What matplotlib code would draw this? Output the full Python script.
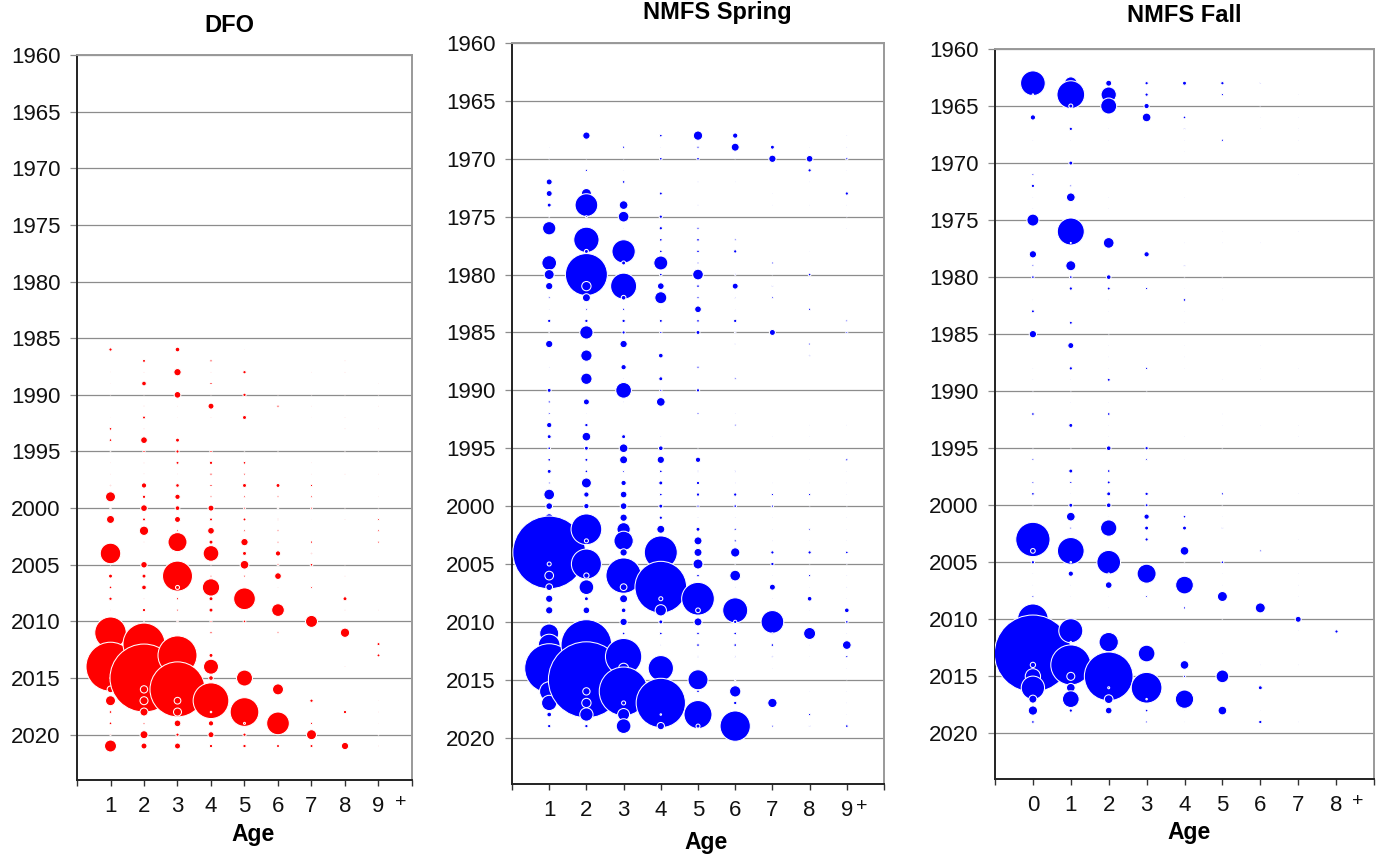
import matplotlib
matplotlib.use("Agg")
import matplotlib.pyplot as plt
import numpy as np

plt.rcParams['font.family'] = ['Liberation Sans', 'DejaVu Sans']

# Bubble width index by survey year (rows) and age (columns)

# DFO, ages 1..9+
dfo_years = list(range(1986, 2022))
dfo_ages = [1, 2, 3, 4, 5, 6, 7, 8, 9]
dfo_index = [
    [3.3, 0, 4.7, 0, 0.5, 0, 0, 0, 0],          # 1986
    [0, 3, 0, 2.3, 0, 0, 0, 0.5, 0],            # 1987
    [0.7, 0.5, 7.3, 0.5, 3.3, 0, 0.5, 0.5, 0],  # 1988
    [0.5, 4.7, 0, 2.3, 0, 0, 0, 0, 0.5],        # 1989
    [0.3, 0.3, 6.7, 0.3, 3.3, 0.3, 0.3, 0.3, 0.3],  # 1990
    [0, 1.5, 0.5, 6, 0, 2.3, 0.5, 0, 0.5],      # 1991
    [0.7, 3, 0.5, 0.5, 4, 0, 0.7, 0.5, 0],      # 1992
    [2.7, 0.7, 0, 0, 0, 0, 0, 0.5, 0.5],        # 1993
    [2.7, 6.7, 4, 0, 0, 0, 0, 0, 0],            # 1994
    [0.5, 2.3, 3.3, 2.3, 0.3, 0.3, 0, 0.3, 0.3],  # 1995
    [0.5, 1.5, 3, 3.3, 2.7, 0, 0.5, 0, 0],      # 1996
    [0.5, 1.2, 0.7, 2.3, 2, 0, 0.5, 0.5, 0.5],  # 1997
    [1.5, 5.3, 3.7, 2.3, 4, 4, 2.3, 0, 0],      # 1998
    [10, 3.3, 5.3, 2, 2, 2, 2, 0, 0.5],         # 1999
    [1.5, 6.7, 4.7, 6, 2, 1.5, 2, 0.3, 0.3],    # 2000
    [8, 3, 6, 3, 3, 1.5, 0.7, 0.7, 2],          # 2001
    [0, 9.3, 2, 6.7, 2, 2, 0, 0, 2],            # 2002
    [0, 1.5, 19, 4, 7.3, 2, 2.3, 0, 2],         # 2003
    [20.5, 0, 0.5, 15.7, 4, 5.3, 1.5, 0, 0],    # 2004
    [0.5, 6.5, 0.5, 0.5, 8.7, 2, 2.7, 0.3, 0],  # 2005
    [4, 4, 30, 2, 2, 6.7, 0, 0.5, 0],           # 2006
    [2.7, 4.7, 4, 17.3, 0, 0.5, 2, 0, 0],       # 2007
    [3.3, 0.7, 2.3, 4, 21.7, 0, 0, 4, 0],       # 2008
    [0.7, 3.3, 2, 4, 0, 12.7, 0, 0.5, 0.5],     # 2009
    [0.5, 0.5, 1.5, 2, 2.7, 0, 12, 0, 0],       # 2010
    [31.5, 1, 1, 2.3, 0, 2, 0, 9.3, 0],         # 2011
    [1, 42, 1, 0, 0, 0, 0, 0, 3],               # 2012
    [2, 2, 39, 4, 0, 0, 0, 0, 3],               # 2013
    [49, 2, 2, 15, 0, 0, 0, 0.5, 0],            # 2014
    [1, 68, 2, 4.7, 16, 0, 0, 0, 0],            # 2015
    [6.7, 7.3, 55, 1, 0.5, 11, 0, 0, 0],        # 2016
    [10, 8, 6.7, 35.7, 0, 0, 3.3, 0, 0.5],      # 2017
    [2.7, 8, 8, 1.5, 28.7, 0, 0, 3.3, 0.5],     # 2018
    [2.7, 2, 6.7, 5.3, 2, 22.7, 2.3, 0, 0.3],   # 2019
    [1.5, 8, 3.3, 6, 3.3, 0, 10, 0, 0.7],       # 2020
    [12, 6, 6, 3.3, 3.3, 3, 3, 7.3, 0.7],       # 2021
]

# NMFS Spring, ages 1..9+
spring_years = list(range(1968, 2020))
spring_ages = [1, 2, 3, 4, 5, 6, 7, 8, 9]
spring_index = [
    [0, 7.3, 0, 2.7, 9.3, 5.3, 0, 0, 0.5],        # 1968
    [0.3, 0, 2.3, 0.3, 2.3, 8, 4, 0.3, 0.5],      # 1969
    [0.5, 0.3, 0.3, 2.7, 2.7, 0.3, 7.3, 6.7, 2.3],  # 1970
    [0, 2.3, 0.5, 0, 0, 0, 0, 3.3, 0.3],          # 1971
    [6, 0, 2.7, 0, 0.5, 0.3, 0, 0.3, 0],          # 1972
    [6, 10, 0, 3, 0, 0, 0.5, 0, 3.3],             # 1973
    [4, 22.7, 8.7, 0, 0.5, 0, 0.3, 0.3, 0.3],     # 1974
    [1, 2, 10.7, 3.3, 0, 0, 0, 0, 0.5],           # 1975
    [13.3, 0, 0.5, 3.3, 2.3, 0, 0, 0, 0.3],       # 1976
    [0, 25.3, 0, 2.7, 2.7, 2, 0, 0, 0],           # 1977
    [0, 4, 23.3, 2.7, 2.7, 3.3, 0, 0.3, 0],       # 1978
    [14.7, 3, 4, 14, 2, 0, 2, 0, 0],              # 1979
    [10, 42, 0, 2.7, 10.7, 1.5, 0.5, 2.7, 0],     # 1980
    [7.3, 9.3, 26, 6.7, 2.7, 6, 1.5, 0, 0],       # 1981
    [2, 8, 4.7, 12, 2.3, 1.5, 2, 0, 0],           # 1982
    [0.5, 2, 2.3, 0.5, 6.7, 0.3, 0, 2.3, 0],      # 1983
    [3.3, 3.3, 3.3, 3, 2.7, 3.3, 0, 0, 2],        # 1984
    [0.5, 13.3, 3.3, 2.3, 4, 1.5, 6, 0, 2],       # 1985
    [7.3, 0, 7.3, 0, 0, 1.5, 0, 2, 0],            # 1986
    [0, 11.3, 0, 4.7, 0, 0, 0, 1.5, 0],           # 1987
    [0.5, 0, 5.3, 0, 2.3, 0, 0, 0, 0],            # 1988
    [0, 11.3, 0.5, 4, 0, 2, 0, 0, 0],             # 1989
    [4, 0, 15.7, 2.3, 3.3, 0, 0, 0, 0],           # 1990
    [2.3, 6, 0.5, 8.7, 0, 0, 0, 0, 0],            # 1991
    [2, 0.5, 0, 0, 2, 0.5, 0, 0, 0],              # 1992
    [5.3, 3.3, 0, 0, 0, 2, 0, 0.3, 0.3],          # 1993
    [4, 8.7, 4, 0.5, 0, 0, 0.3, 0.3, 0],          # 1994
    [2.7, 4, 8.7, 4.7, 0.3, 0, 0, 0, 0],          # 1995
    [2.7, 3, 8, 7.3, 5.3, 0, 0, 0.3, 2.3],        # 1996
    [4, 2.7, 2, 2.7, 1.5, 1.5, 0, 0, 0.3],        # 1997
    [2, 10, 5.3, 4, 3.3, 0.5, 0.3, 0.3, 0.3],     # 1998
    [10.7, 5.3, 6.7, 2.7, 3.3, 3.3, 2.3, 2.3, 0.3],  # 1999
    [6.7, 5.3, 6.7, 4, 2.3, 2.7, 2.3, 0.3, 0.3],  # 2000
    [8, 2, 7.3, 3.3, 0.5, 0.5, 0.3, 0, 0.3],      # 2001
    [4, 30.7, 13.3, 8, 4, 2.3, 0.5, 2, 0.3],      # 2002
    [3, 4, 19.3, 0, 8, 2.3, 0.5, 0.3, 0.3],       # 2003
    [72.7, 1, 7.3, 33, 8, 9.3, 3.3, 3.3, 2.7],    # 2004
    [4, 30, 1, 1, 10, 0.5, 3.3, 0.3, 0.5],        # 2005
    [8.7, 5.3, 35.3, 1, 2.7, 10.7, 0.5, 2.3, 0.5],  # 2006
    [6.7, 14.7, 6.7, 51.7, 0, 0.5, 6, 0.3, 0.5],  # 2007
    [7.3, 4, 8, 4, 32.7, 0, 0.5, 4.7, 0.3],       # 2008
    [7.3, 6.7, 4.7, 11.3, 4.7, 25, 0, 0.3, 4.7],  # 2009
    [0.5, 0.5, 7.3, 4, 8, 3.3, 22.7, 0, 2.7],     # 2010
    [19, 1, 2.7, 2.7, 2.7, 2.7, 1.5, 12, 0.5],    # 2011
    [21.7, 50.7, 0.5, 0.5, 2.7, 2.7, 2.7, 0.3, 8.7],  # 2012
    [10, 2, 36.3, 0, 1.5, 1.5, 1.5, 0.3, 2.3],    # 2013
    [49, 2, 10, 25.3, 0, 0, 0.3, 0, 0.3],         # 2014
    [1, 76, 2, 1, 20, 1.5, 0, 0, 0.3],            # 2015
    [19.3, 7.3, 48.7, 1, 2.7, 11.3, 0, 0.3, 0.3],  # 2016
    [15.3, 9.3, 4, 49.3, 0, 3.3, 9.3, 0, 0.3],    # 2017
    [4.7, 13.3, 12, 1.5, 28, 0, 0, 2.3, 0.3],     # 2018
    [3.3, 3.3, 14.7, 7.3, 4, 30.3, 2, 1.5, 2.7],  # 2019
]

# NMFS Fall, ages 0..8+
fall_years = list(range(1963, 2020))
fall_ages = [0, 1, 2, 3, 4, 5, 6, 7, 8]
fall_index = [
    [24.7, 12.7, 6, 3.3, 4, 3.3, 1.5, 0, 0],      # 1963
    [1.5, 27.7, 15.3, 3.3, 0, 2.3, 0, 0.3, 0],    # 1964
    [0, 4, 16, 5.3, 0, 0, 0.3, 0, 0],             # 1965
    [5.3, 0, 0.3, 8.7, 2.7, 0, 0.3, 0.3, 0],      # 1966
    [0, 3.3, 0.3, 0, 1.5, 0, 0.3, 0.3, 0],        # 1967
    [0.3, 0.3, 0.3, 0, 0.3, 2.3, 0, 0.3, 0],      # 1968
    [0, 0, 0, 0, 0.3, 0, 0, 0, 0],                # 1969
    [0, 4, 0, 0, 0, 0, 0, 0, 0],                  # 1970
    [2, 0, 0, 0, 0, 0, 0, 0.3, 0],                # 1971
    [3.3, 2, 0, 0, 0, 0, 0, 0, 0],                # 1972
    [0.3, 8.7, 0.3, 0, 0.3, 0, 0, 0, 0],          # 1973
    [0.3, 0, 0.3, 0, 0, 0, 0, 0, 0],              # 1974
    [12, 0, 0, 0, 0, 0, 0, 0, 0],                 # 1975
    [0, 27, 0, 0, 0, 0.3, 0, 0.3, 0],             # 1976
    [0, 1, 10.7, 0, 0.3, 0.3, 0.3, 0, 0],         # 1977
    [7.3, 0, 0, 5.3, 0, 0, 0, 0, 0],              # 1978
    [2, 10, 0, 0, 1.5, 0, 0, 0, 0],               # 1979
    [2.7, 2.7, 4.7, 0, 0.3, 0.3, 0, 0, 0],        # 1980
    [0, 3.3, 3, 2.3, 0.3, 0.3, 0, 0, 0],          # 1981
    [0.3, 0, 0.3, 0, 2.7, 0.3, 0, 0, 0],          # 1982
    [3, 0, 0.3, 0, 0.3, 0, 0, 0, 0],              # 1983
    [0, 3, 0, 0, 0.3, 0, 0, 0, 0],                # 1984
    [7.3, 0, 0.3, 0, 0, 0, 0, 0, 0],              # 1985
    [0, 6, 0.3, 0, 0.3, 0, 0.3, 0, 0],            # 1986
    [0, 0, 0.3, 0, 0.3, 0, 0, 0, 0],              # 1987
    [0.3, 3.3, 0.3, 2.3, 0.3, 0, 0.3, 0.3, 0],    # 1988
    [0.3, 0.3, 3, 0, 0, 0.3, 0.3, 0, 0],          # 1989
    [0.3, 0.3, 0, 0.3, 0, 0, 0, 0, 0],            # 1990
    [0, 0.3, 0.3, 0, 0, 0, 0, 0, 0],              # 1991
    [2.7, 0, 2.7, 0, 0, 0.3, 0, 0, 0],            # 1992
    [0, 4, 0.3, 0, 0, 0.3, 0.3, 0.3, 0],          # 1993
    [0, 0, 0.3, 0, 0.3, 0, 0, 0.3, 0],            # 1994
    [0.3, 0.3, 4.7, 3.3, 0, 0.3, 0, 0, 0],        # 1995
    [2, 0, 0, 2, 0.3, 0, 0, 0, 0],                # 1996
    [0, 4, 2.7, 0, 0, 0, 0, 0, 0],                # 1997
    [2, 2.3, 3, 0, 0, 0, 0, 0, 0],                # 1998
    [2.7, 0.3, 4, 3.3, 0, 2.3, 0, 0.3, 0],        # 1999
    [0.3, 4, 4.7, 3, 0, 0.3, 0, 0, 0],            # 2000
    [0, 8.7, 0.3, 5.3, 2.7, 0.3, 0, 0, 0],        # 2001
    [0, 2, 16.3, 4, 4, 1.5, 0, 0, 0],             # 2002
    [34.3, 0, 0.3, 3.3, 0, 0, 0, 0.3, 0],         # 2003
    [4.7, 26.7, 0, 0, 8.7, 0, 2, 0, 0],           # 2004
    [3.3, 1.5, 23.7, 0, 0.3, 2.7, 0, 0, 0],       # 2005
    [0.3, 5.3, 1.5, 19, 0.3, 0.3, 0, 0.3, 0],     # 2006
    [0.3, 0.3, 6.7, 0, 17.7, 0.3, 0, 0.3, 0],     # 2007
    [2, 0.3, 0.3, 2, 0, 10, 0, 0.3, 0],           # 2008
    [0, 0, 0.3, 0, 2.3, 0, 10, 0, 0],             # 2009
    [30.7, 0, 0, 0, 0, 0.3, 0, 6, 0],             # 2010
    [10, 24, 0, 0, 0, 0, 0, 0.3, 3.3],            # 2011
    [10, 1.5, 19.3, 0, 0.3, 0, 0, 0, 0],          # 2012
    [77, 2, 2, 16.7, 0, 0.3, 0, 0, 0],            # 2013
    [5.3, 40, 2, 0, 8.7, 0, 0.3, 0.3, 0],         # 2014
    [15.3, 8, 48.7, 0, 2.3, 12.7, 0, 0, 0],       # 2015
    [23.3, 8.7, 2, 30.7, 0, 0, 4, 0, 0],          # 2016
    [8, 16.7, 8.7, 1.5, 18.3, 0, 0, 0, 0],        # 2017
    [9.3, 3.3, 6.7, 2.7, 0.3, 8.7, 0.3, 0, 0],    # 2018
    [2.7, 0, 0, 2, 0.3, 0, 3.3, 0.3, 0],          # 2019
]

W, H = 1376, 857
fig = plt.figure(figsize=(W / 100, H / 100), dpi=100)

width_to_pt = 0.72   # bubble width index -> marker diameter in points


def px_box(left, top, right, bottom):
    return [left / W, 1 - bottom / H, (right - left) / W, (bottom - top) / H]


def bubble_panel(box, years, ages, index, color, xlim, plus_x):
    ax = fig.add_axes(box)
    yrs = np.array(years)
    vals = np.array(index, dtype=float)
    # one series per age, drawn in age order
    for j, age in enumerate(ages):
        v = vals[:, j]
        keep = v > 0
        ax.scatter(np.full(keep.sum(), age), yrs[keep], s=(v[keep] * width_to_pt) ** 2,
                   c=color, edgecolors='white', linewidths=0.75, zorder=3)

    ax.set_xlim(*xlim)
    ax.set_ylim(2024, 1960)
    ax.set_yticks(range(1960, 2021, 5))
    ax.set_xticks(range(xlim[0], xlim[1] + 1))
    ax.set_xticklabels([''] + [str(a) for a in ages] + [''])
    ax.yaxis.grid(True, color='#8c8c8c', lw=0.9)
    ax.set_axisbelow(True)

    ax.tick_params(axis='y', length=5, width=0.9, color='#8c8c8c', pad=7,
                   labelsize=16, labelcolor='#111111')
    ax.tick_params(axis='x', length=4.5, width=1, color='#333333', pad=7,
                   labelsize=16, labelcolor='#111111')
    for side in ['left', 'bottom']:
        ax.spines[side].set_color('#222222')
        ax.spines[side].set_linewidth(1.4)
    for side in ['top', 'right']:
        ax.spines[side].set_color('#999999')
        ax.spines[side].set_linewidth(1.4)

    ax.annotate('+', xy=(plus_x, 0), xycoords=('data', 'axes fraction'),
                xytext=(0, -16), textcoords='offset points',
                ha='center', va='center', fontsize=14, color='#111111')
    return ax


bubble_panel(px_box(77, 55, 412, 780), dfo_years, dfo_ages, dfo_index,
             '#ff0000', (0, 10), 9.65)
bubble_panel(px_box(512, 43, 884, 784), spring_years, spring_ages, spring_index,
             '#0000ff', (0, 10), 9.4)
bubble_panel(px_box(995, 49, 1374, 779), fall_years, fall_ages, fall_index,
             '#0000ff', (-1, 9), 8.57)

# titles and axis labels
for text, x, y in [('DFO', 229, 26), ('NMFS Spring', 717, 12), ('NMFS Fall', 1184, 15)]:
    fig.text(x / W, 1 - y / H, text, ha='center', va='center',
             fontsize=17, fontweight='bold')
for x, y in [(253, 835), (706, 842), (1189, 833)]:
    fig.text(x / W, 1 - y / H, 'Age', ha='center', va='center',
             fontsize=16.5, fontweight='bold')

fig.savefig('out.png', dpi=100)
